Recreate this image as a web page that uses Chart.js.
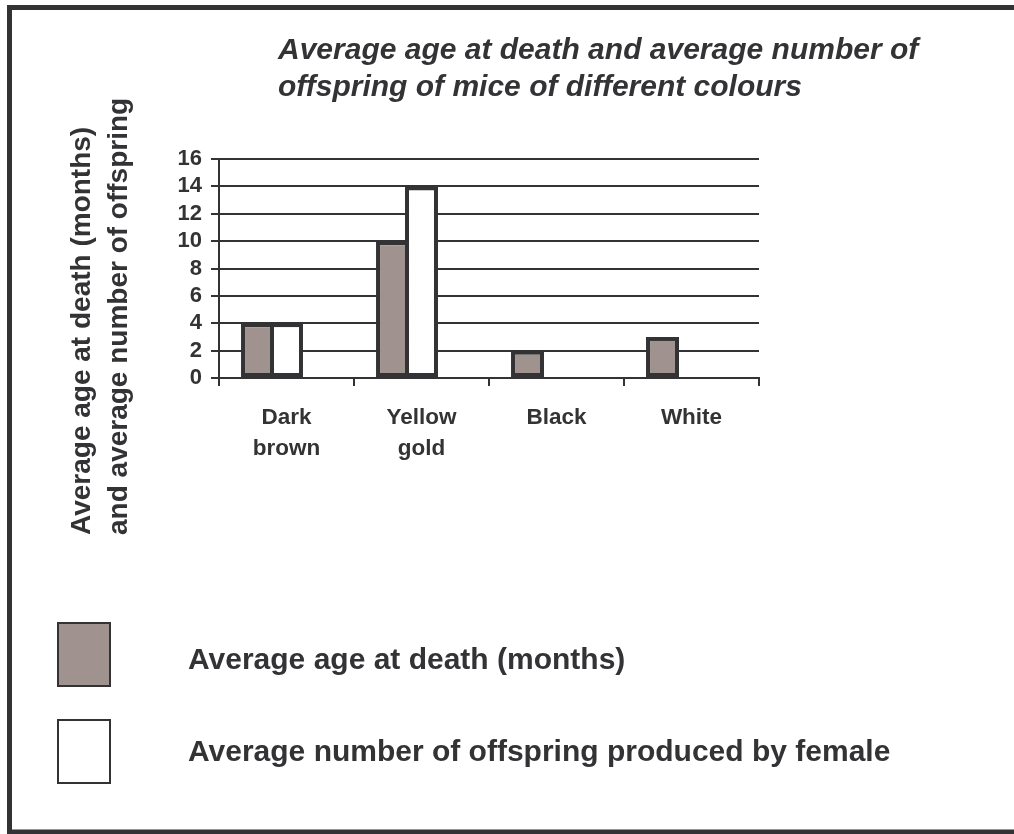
<!DOCTYPE html>
<html lang="en">
<head>
    <meta charset="UTF-8" />
    <title>Mice colours chart</title>
    <script src="https://cdn.jsdelivr.net/npm/chart.js"></script>
    <style>
        html, body { margin: 0; padding: 0; background: #fff; }
        #wrap { width: 1014px; height: 834px; position: relative; }
    </style>
</head>
<body>
<div id="wrap"><canvas id="grafico-ratos"></canvas></div>

<script>
    const categorias = [['Dark', 'brown'], ['Yellow', 'gold'], 'Black', 'White'];
    const idadeMorte = [4, 10, 2, 3];
    const numeroFilhotes = [4, 14, null, null];
    const vazio = [null, null, null, null];
    const tituloLinhas = ['Average age at death and average number of', 'offspring of mice of different colours'];
    const eixoYLinhas = ['Average age at death (months)', 'and average number of offspring'];
    const legendaTextos = ['Average age at death (months)', 'Average number of offspring produced by female'];

    const cinza = '#333336';
    const fonte = '"Liberation Sans", Arial, Helvetica, sans-serif';

    // moldura, titulo, titulo do eixo y e legenda
    const extras = {
        id: 'extras',
        beforeDraw(chart) {
            const ctx = chart.ctx;
            ctx.save();
            ctx.fillStyle = '#fff';
            ctx.fillRect(0, 0, chart.width, chart.height);
            ctx.restore();
        },
        afterDraw(chart) {
            const ctx = chart.ctx;
            ctx.save();
            ctx.strokeStyle = cinza;
            ctx.lineWidth = 5;
            ctx.strokeRect(9.5, 7.5, 1020, 824.5);

            ctx.fillStyle = cinza;
            ctx.textBaseline = 'alphabetic';
            ctx.textAlign = 'left';
            ctx.font = 'italic bold 30px ' + fonte;
            ctx.fillText(tituloLinhas[0], 278, 59);
            ctx.fillText(tituloLinhas[1], 278, 96);

            ctx.save();
            ctx.font = 'bold 28px ' + fonte;
            ctx.translate(90, 535);
            ctx.rotate(-Math.PI / 2);
            ctx.fillText(eixoYLinhas[0], 0, 0);
            ctx.fillText(eixoYLinhas[1], 0, 37);
            ctx.restore();

            const caixas = [[58, 623], [58, 720]];
            chart.data.datasets.slice(0, 2).forEach((ds, i) => {
                ctx.fillStyle = ds.backgroundColor;
                ctx.fillRect(caixas[i][0], caixas[i][1], 52, 63);
                ctx.lineWidth = 2;
                ctx.strokeStyle = cinza;
                ctx.strokeRect(caixas[i][0], caixas[i][1], 52, 63);
            });
            ctx.fillStyle = cinza;
            ctx.font = 'bold 30px ' + fonte;
            ctx.fillText(legendaTextos[0], 188, 669);
            ctx.fillText(legendaTextos[1], 188, 761);
            ctx.restore();
        }
    };

    new Chart(document.getElementById('grafico-ratos'), {
        type: 'bar',
        data: {
            labels: categorias,
            datasets: [{
                label: legendaTextos[0],
                data: idadeMorte,
                backgroundColor: '#a0938f',
                borderColor: cinza,
                borderWidth: 4,
                borderSkipped: false
            }, {
                label: legendaTextos[1],
                data: numeroFilhotes,
                backgroundColor: '#ffffff',
                borderColor: cinza,
                borderWidth: 4,
                borderSkipped: false
            }, {
                label: '',
                data: vazio
            }]
        },
        options: {
            responsive: true,
            maintainAspectRatio: false,
            animation: false,
            categoryPercentage: 0.644,
            barPercentage: 1.138,
            layout: {
                padding: { left: 159, top: 159, right: 255, bottom: 366 }
            },
            plugins: {
                legend: { display: false },
                title: { display: false },
                tooltip: { enabled: false }
            },
            scales: {
                x: {
                    afterFit: s => { s.height = 90; },
                    grid: {
                        drawOnChartArea: false,
                        color: cinza,
                        lineWidth: 2,
                        tickLength: 8
                    },
                    border: { color: cinza, width: 2 },
                    ticks: {
                        color: cinza,
                        padding: 16,
                        maxRotation: 0,
                        autoSkip: false,
                        font: { family: fonte, size: 22.5, weight: 'bold', lineHeight: 1.4 }
                    }
                },
                y: {
                    min: 0,
                    max: 16,
                    afterFit: s => { s.width = 60; },
                    grid: {
                        color: cinza,
                        lineWidth: 2,
                        tickLength: 8
                    },
                    border: { color: cinza, width: 2 },
                    ticks: {
                        stepSize: 2,
                        autoSkip: false,
                        color: cinza,
                        padding: 9,
                        font: { family: fonte, size: 22, weight: 'bold' }
                    }
                }
            }
        },
        plugins: [extras]
    });
</script>
</body>
</html>
